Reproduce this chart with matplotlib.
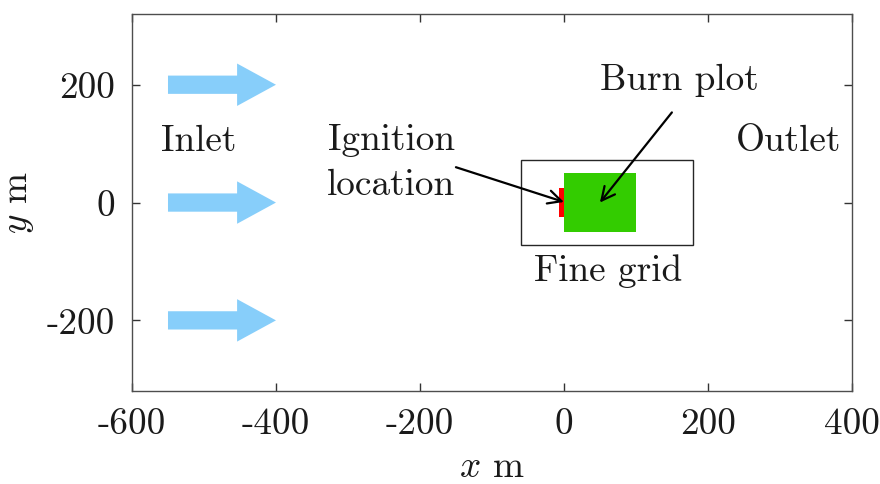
import numpy as np
import matplotlib
matplotlib.use("Agg")
import matplotlib.pyplot as plt
from matplotlib.patches import Rectangle, FancyArrow

plt.rcParams['font.family'] = 'serif'
plt.rcParams['font.serif'] = ['cmr10']
plt.rcParams['mathtext.fontset'] = 'cm'
plt.rcParams['axes.unicode_minus'] = False
plt.rcParams['font.size'] = 26.8

# domain pieces (m)
inlet_y = [200, 0, -200]
inlet_x0, inlet_x1 = -550, -400
fine_grid = (-60, -72, 240, 144)   # x, y, w, h
burn_plot = (0, -50, 100, 100)
ignition = (-7, -25, 7, 50)

xticks = [-600, -400, -200, 0, 200, 400]
yticks = [-200, 0, 200]

fig = plt.figure(figsize=(8.8, 4.84), dpi=100)
ax = fig.add_axes([0.15, 0.192, 0.818, 0.779])

for y in inlet_y:
    ax.add_patch(FancyArrow(inlet_x0, y, inlet_x1 - inlet_x0, 0, width=31,
                            head_width=72, head_length=54,
                            length_includes_head=True,
                            color='#87cefa', lw=0))

ax.add_patch(Rectangle(fine_grid[:2], fine_grid[2], fine_grid[3],
                       fill=False, ec='0.15', lw=1.0))
ax.add_patch(Rectangle(burn_plot[:2], burn_plot[2], burn_plot[3],
                       fc='#33cc00', ec='none'))
ax.add_patch(Rectangle(ignition[:2], ignition[2], ignition[3],
                       fc='#ff0000', ec='none'))

txt = dict(ha='center', va='center', color='0.1')
ax.text(-507, 104, 'Inlet', **txt)
ax.text(312, 104, 'Outlet', **txt)
ax.text(62, -116, 'Fine grid', **txt)
ax.text(161, 207, 'Burn plot', **txt)
ax.text(-240, 68, 'Ignition\nlocation', linespacing=1.45, **txt)

ax.annotate('', xy=(0, 1), xytext=(-150, 60),
            arrowprops=dict(arrowstyle='->', lw=1.6, color='k',
                            mutation_scale=24, shrinkA=0, shrinkB=0))
ax.annotate('', xy=(50, 0), xytext=(150, 153),
            arrowprops=dict(arrowstyle='->', lw=1.6, color='k',
                            mutation_scale=24, shrinkA=0, shrinkB=0))

ax.set_xlim(-600, 400)
ax.set_ylim(-320, 320)
ax.set_xticks(xticks)
ax.set_yticks(yticks)
ax.tick_params(direction='in', top=True, right=True, length=6,
               width=1, color='0.2', pad=12, labelcolor='0.1')
for s in ax.spines.values():
    s.set_color('0.3')
    s.set_linewidth(1.0)
ax.set_xlabel('$x$ m', labelpad=7, color='0.1')
ax.set_ylabel('$y$ m', labelpad=8, color='0.1')

fig.savefig('out.png', dpi=100)
